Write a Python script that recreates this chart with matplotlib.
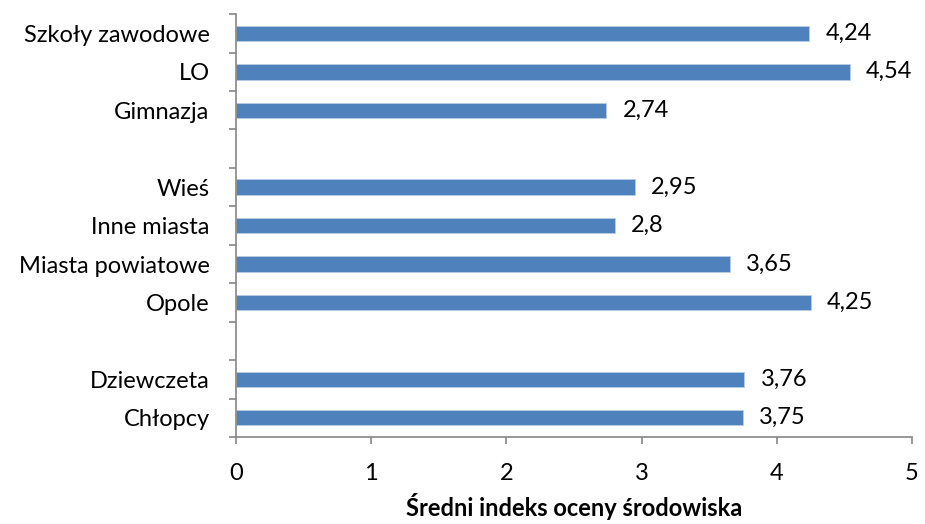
import matplotlib.pyplot as plt
import numpy as np

# ====================================
# Data (top to bottom, empty slots as gaps)
# ====================================

categories = ["Szkoły zawodowe", "LO", "Gimnazja", "",
              "Wieś", "Inne miasta", "Miasta powiatowe", "Opole", "",
              "Dziewczeta", "Chłopcy"]
values = [4.24, 4.54, 2.74, None,
          2.95, 2.8, 3.65, 4.25, None,
          3.76, 3.75]
labels = ["4,24", "4,54", "2,74", "",
          "2,95", "2,8", "3,65", "4,25", "",
          "3,76", "3,75"]

plt.rcParams["font.family"] = ["Lato", "DejaVu Sans"]

fig = plt.figure(figsize=(9.25, 5.24), dpi=100)
ax = fig.add_axes([0.2551, 0.166, 0.7309, 0.807])

n = len(categories)
y = np.arange(n)[::-1]  # top category at top

for yi, v, lab in zip(y, values, labels):
    if v is None:
        continue
    ax.barh(yi, v, height=0.4, color="#4F81BD", edgecolor="#B9CDE5", linewidth=0.6)
    ax.text(v + 0.12, yi, lab, va="center", ha="left", fontsize=17, color="#000000")

ax.set_xlim(0, 5)
ax.set_ylim(-0.5, n - 0.5)

ax.set_yticks(y)
ax.set_yticklabels(categories, fontsize=17)
ax.set_yticks(np.arange(n + 1) - 0.5, minor=True)
ax.tick_params(axis="y", which="major", length=0, pad=19)
ax.tick_params(axis="y", which="minor", length=5, color="#868686", width=1.2, direction="out")

ax.set_xticks(range(6))
ax.set_xticklabels([str(i) for i in range(6)], fontsize=17)
ax.tick_params(axis="x", length=5, color="#868686", width=1.2, direction="out", pad=14)

for s in ["top", "right"]:
    ax.spines[s].set_visible(False)
for s in ["left", "bottom"]:
    ax.spines[s].set_color("#868686")
    ax.spines[s].set_linewidth(1.2)

ax.set_xlabel("Średni indeks oceny środowiska", fontsize=17, fontweight="bold", labelpad=6)

fig.savefig("out.png", dpi=100)
